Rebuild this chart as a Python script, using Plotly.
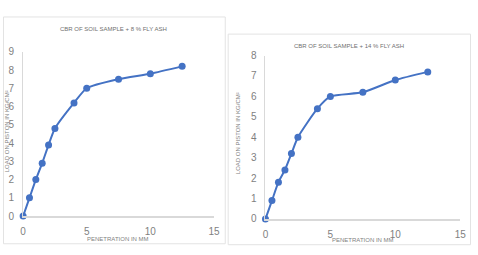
import plotly.graph_objects as go

penetration = [0, 0.5, 1, 1.5, 2, 2.5, 4, 5, 7.5, 10, 12.5]
load_8 = [0, 1, 2, 2.9, 3.9, 4.8, 6.2, 7, 7.5, 7.8, 8.2]
load_14 = [0, 0.9, 1.8, 2.4, 3.2, 4, 5.4, 6, 6.2, 6.8, 7.2]
title_8 = "CBR OF SOIL SAMPLE + 8 % FLY ASH"
title_14 = "CBR OF SOIL SAMPLE + 14 % FLY ASH"
x_title = "PENETRATION IN MM"
y_title = "LOAD ON PISTON IN KG/CM²"

W, H = 478, 255
blue = "#4472C4"
txt = "#7f7f7f"
axc = "#d9d9d9"
font = "Liberation Sans Narrow, Arial Narrow, Liberation Sans, sans-serif"

def px(x):
    return x / W

def py(y):
    return 1 - y / H

fig = go.Figure()
fig.add_trace(go.Scatter(x=penetration, y=load_8, mode="lines+markers",
                         line=dict(color=blue, width=2, shape="spline", smoothing=0.6),
                         marker=dict(color=blue, size=7), cliponaxis=False,
                         xaxis="x", yaxis="y", showlegend=False))
fig.add_trace(go.Scatter(x=penetration, y=load_14, mode="lines+markers",
                         line=dict(color=blue, width=2, shape="spline", smoothing=0.6),
                         marker=dict(color=blue, size=7), cliponaxis=False,
                         xaxis="x2", yaxis="y2", showlegend=False))

common_x = dict(range=[0, 15], tickvals=[0, 5, 10, 15], showgrid=False, zeroline=False,
                showline=True, linecolor=axc, linewidth=1.5, ticks="",
                tickfont=dict(size=10, color=txt, family=font), ticklabelstandoff=5)
common_y = dict(showgrid=False, zeroline=False, showline=True, linecolor=axc, linewidth=1,
                ticks="", tickfont=dict(size=10, color=txt, family=font), ticklabelstandoff=6)

def ann(text, x, y, size=6, angle=0, color=txt):
    return dict(text=text, x=px(x), y=py(y), xref="paper", yref="paper", showarrow=False,
                xanchor="center", yanchor="middle", textangle=angle,
                font=dict(size=size, color=color, family=font))

fig.update_layout(
    width=W, height=H, margin=dict(l=0, r=0, t=0, b=0),
    paper_bgcolor="white", plot_bgcolor="white",
    xaxis=dict(domain=[px(20.5), px(215)], anchor="y", **common_x),
    yaxis=dict(domain=[py(220.5), py(48)], anchor="x", range=[0, 9], dtick=1, **common_y),
    xaxis2=dict(domain=[px(267.5), px(466)], anchor="y2", **common_x),
    yaxis2=dict(domain=[py(223.5), py(52)], anchor="x2", range=[0, 8], dtick=1, **common_y),
    shapes=[
        dict(type="rect", xref="paper", yref="paper", x0=px(0.5), x1=px(226.5),
             y0=py(249.5), y1=py(11.5), line=dict(color="#e3e3e3", width=1)),
        dict(type="rect", xref="paper", yref="paper", x0=px(229.5), x1=px(476.5),
             y0=py(250.5), y1=py(29.5), line=dict(color="#e3e3e3", width=1)),
    ],
    annotations=[
        ann(title_8, 113, 24, color="#6f6f6f"),
        ann(title_14, 353, 42, color="#6f6f6f"),
        ann(x_title, 117, 245),
        ann(x_title, 367, 245.5),
        ann(y_title, 3.5, 131, angle=-90),
        ann(y_title, 239, 134, angle=-90),
    ],
)

fig.write_html("out.html")
